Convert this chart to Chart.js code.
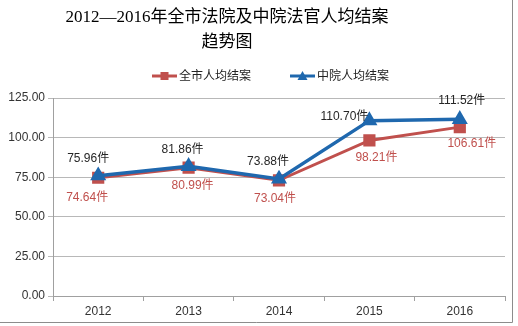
<!DOCTYPE html>
<html><head><meta charset="utf-8">
<script src="https://cdn.jsdelivr.net/npm/chart.js@4/dist/chart.umd.min.js"></script>
<style>html,body{margin:0;padding:0;background:#fff}#wrap{width:518px;height:326px}</style>
</head><body><div id="wrap"><canvas id="c" width="518" height="326"></canvas></div>
<script>
const categories = ['2012','2013','2014','2015','2016'];
const cityValues = [74.64, 80.99, 73.04, 98.21, 106.61];
const midCourtValues = [75.96, 81.86, 73.88, 110.70, 111.52];
const seriesNames = ['全市人均结案','中院人均结案'];
const titleLines = ['2012—2016年全市法院及中院法官人均结案','趋势图'];
const yTicks = [0, 25, 50, 75, 100, 125];

const RED = '#C0504D', BLUE = '#1F68AE';
const cjk = '"Liberation Sans","Noto Sans CJK SC",sans-serif';
const serif = '"Liberation Serif","Noto Sans CJK SC",serif';

// label placement (dx, dy) relative to point
const blueOffsets = [[-10,-17],[-6,-17],[-11,-17],[-25,-4],[2,-19]];
const redOffsets  = [[-11,20],[4,18],[-4,18],[7,17],[12,17]];

const decor = {
  id:'decor',
  afterDraw(chart){
    const ctx = chart.ctx;
    ctx.save();
    // title
    ctx.fillStyle = '#000';
    ctx.textAlign='center'; ctx.textBaseline='middle';
    ctx.font = '17px '+serif;
    ctx.fillText(titleLines[0], 227, 18);
    ctx.fillText(titleLines[1], 227, 43);
    // legend
    const items = [
      {x:152, color:RED, shape:'square', text:seriesNames[0]},
      {x:290, color:BLUE, shape:'tri', text:seriesNames[1]}
    ];
    ctx.font = '12px '+cjk;
    ctx.textAlign='left';
    items.forEach(it=>{
      const y=76;
      ctx.strokeStyle=it.color; ctx.lineWidth=3;
      ctx.beginPath(); ctx.moveTo(it.x,y); ctx.lineTo(it.x+25,y); ctx.stroke();
      ctx.fillStyle=it.color;
      const cx=it.x+12.5;
      if(it.shape==='square'){ ctx.fillRect(cx-4,y-4,8,8); }
      else { ctx.beginPath(); ctx.moveTo(cx,y-5); ctx.lineTo(cx+5,y+4); ctx.lineTo(cx-5,y+4); ctx.closePath(); ctx.fill(); }
      ctx.fillStyle='#222';
      ctx.fillText(it.text, it.x+27, y+1);
    });
    // data labels
    ctx.font = '12px '+cjk;
    ctx.textAlign='center';
    const mRed = chart.getDatasetMeta(0), mBlue = chart.getDatasetMeta(1);
    mBlue.data.forEach((p,i)=>{
      ctx.fillStyle='#262626';
      ctx.fillText(midCourtValues[i].toFixed(2)+'件', p.x+blueOffsets[i][0], p.y+blueOffsets[i][1]);
    });
    mRed.data.forEach((p,i)=>{
      ctx.fillStyle=RED;
      ctx.fillText(cityValues[i].toFixed(2)+'件', p.x+redOffsets[i][0], p.y+redOffsets[i][1]);
    });
    // frame border
    ctx.strokeStyle='#8c8c8c'; ctx.lineWidth=1;
    ctx.beginPath(); ctx.moveTo(512.5,0); ctx.lineTo(512.5,322.5); ctx.lineTo(0,322.5); ctx.stroke();
    ctx.restore();
  }
};

new Chart(document.getElementById('c'), {
  type:'line',
  data:{
    labels: categories,
    datasets:[
      {label:seriesNames[0], data:cityValues, borderColor:RED, backgroundColor:RED, borderWidth:3,
       pointStyle:'rect', pointRadius:6.5, pointHoverRadius:6.5, tension:0, order:1},
      {label:seriesNames[1], data:midCourtValues, borderColor:BLUE, backgroundColor:BLUE, borderWidth:3.5,
       pointStyle:'triangle', pointRadius:5.8, pointHoverRadius:5.8, tension:0, order:0}
    ]
  },
  options:{
    responsive:false, animation:false, devicePixelRatio:1,
    layout:{padding:{top:98,right:13,left:0,bottom:0}},
    plugins:{legend:{display:false}, title:{display:false}, tooltip:{enabled:false}},
    scales:{
      x:{offset:true,
         grid:{offset:true, drawOnChartArea:false, color:'#a0a0a0', tickLength:5},
         border:{color:'#a0a0a0'},
         ticks:{color:'#333', font:{family:cjk, size:12}, padding:3},
         afterFit(s){ s.height = 30; }},
      y:{min:0, max:125,
         afterBuildTicks(s){ s.ticks = yTicks.map(v=>({value:v})); },
         grid:{color:'#b8b8b8', tickLength:5},
         border:{color:'#a0a0a0'},
         ticks:{color:'#333', font:{family:cjk, size:12}, padding:3, callback:v=>Number(v).toFixed(2)},
         afterFit(s){ s.width = 53; }}
    }
  },
  plugins:[decor]
});
</script></body></html>
